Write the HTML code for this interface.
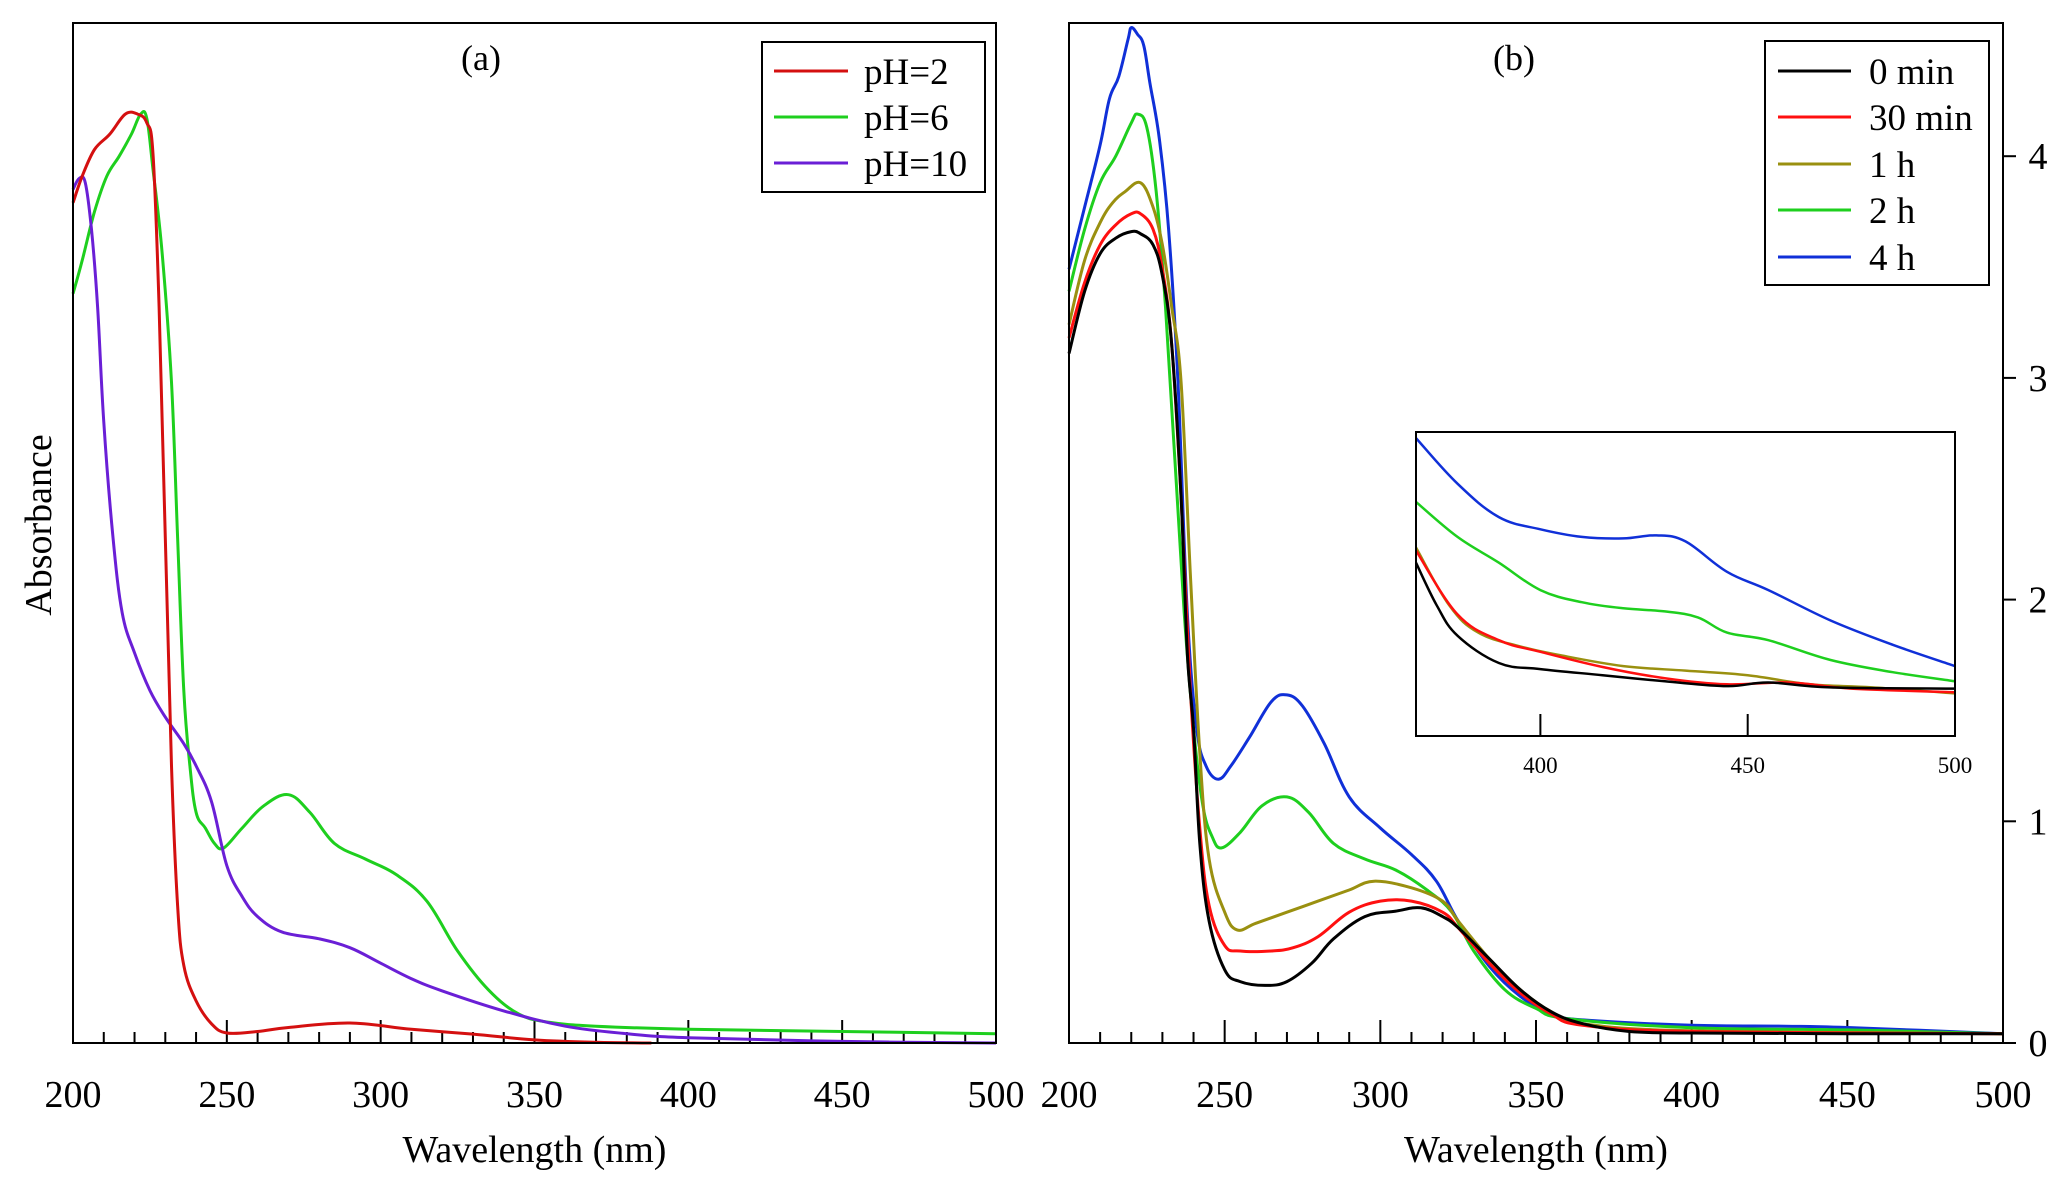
<!DOCTYPE html>
<html><head><meta charset="utf-8">
<style>
html,body{margin:0;padding:0;background:#fff;}
svg{display:block;font-family:"Liberation Serif",serif;}
</style></head>
<body>
<svg id="fig" width="2067" height="1195" viewBox="0 0 2067 1195" xmlns="http://www.w3.org/2000/svg"></svg>
<script>
// ---- Panel (a) data ----
const aNames = ["pH=2","pH=6","pH=10"];
const aColors = ["#d41010","#1ecf1e","#6a1fd6"];
const aRedX = [200,203,207,212,217,221,224,226,228,230,232,234,236,240,245,250,260,270,290,310,330,350,370,388];
const aRedY = [3.79,3.91,4.03,4.1,4.19,4.19,4.15,4.01,3.32,2.28,1.25,0.62,0.35,0.19,0.087,0.045,0.052,0.07,0.09,0.062,0.04,0.014,0.003,0];
const aGreenX = [200,203,207,211,215,219,222,224,226,229,232,234,236,238,240,243,246,249,255,262,270,277,285,295,305,315,325,335,345,355,370,400,450,500];
const aGreenY = [3.38,3.53,3.75,3.91,4.0,4.1,4.19,4.17,3.94,3.56,2.98,2.28,1.59,1.25,1.04,0.97,0.9,0.88,0.97,1.07,1.12,1.04,0.9,0.83,0.76,0.64,0.415,0.24,0.13,0.093,0.076,0.062,0.052,0.042];
const aPurpleX = [200,202,204,206,208,210,213,216,220,225,230,236,240,245,250,255,260,268,280,290,300,310,320,340,360,380,400,450,500];
const aPurpleY = [3.85,3.9,3.88,3.67,3.32,2.8,2.28,1.94,1.76,1.59,1.47,1.35,1.25,1.09,0.8,0.66,0.57,0.5,0.47,0.43,0.36,0.29,0.235,0.145,0.076,0.042,0.024,0.007,0];

// ---- Panel (b) data ----
const bNames = ["0 min","30 min","1 h","2 h","4 h"];
const bColors = ["#000000","#ff1010","#9a9010","#1ecf1e","#1030d8"];
const b0X = [200,205,210,215,220,223,227,230,233,236,238,240,242,245,250,255,263,270,278,285,295,305,313,320,325,335,345,355,365,380,400,450,500];
const b0Y = [3.11,3.39,3.56,3.63,3.66,3.65,3.6,3.46,3.15,2.46,1.76,1.42,0.9,0.55,0.33,0.277,0.26,0.277,0.36,0.47,0.57,0.595,0.61,0.57,0.52,0.38,0.24,0.14,0.087,0.052,0.045,0.042,0.042];
const b30X = [200,205,210,215,220,223,227,230,233,236,239,242,245,250,255,265,272,280,290,300,310,320,325,335,345,355,365,400,500];
const b30Y = [3.18,3.43,3.6,3.69,3.74,3.74,3.67,3.49,3.15,2.46,1.59,0.97,0.62,0.44,0.415,0.415,0.43,0.48,0.59,0.64,0.64,0.59,0.52,0.36,0.225,0.13,0.08,0.052,0.042];
const b1X = [200,205,210,214,218,223,227,230,233,236,239,242,245,250,254,260,270,280,290,298,310,320,325,335,345,355,365,400,500];
const b1Y = [3.24,3.53,3.7,3.79,3.84,3.88,3.77,3.6,3.32,2.98,2.11,1.31,0.83,0.59,0.51,0.54,0.59,0.64,0.69,0.73,0.7,0.64,0.55,0.38,0.24,0.14,0.087,0.055,0.042];
const b2X = [200,205,210,215,220,222,225,228,231,234,237,240,243,246,249,255,262,270,277,285,295,305,315,323,330,340,350,360,400,450,500];
const b2Y = [3.39,3.67,3.88,4.0,4.15,4.19,4.13,3.84,3.32,2.63,1.94,1.42,1.07,0.93,0.88,0.95,1.07,1.11,1.04,0.9,0.83,0.78,0.69,0.59,0.415,0.24,0.156,0.11,0.069,0.059,0.042];
const b4X = [200,205,210,213,216,219,220,222,224,226,229,232,235,238,241,244,248,252,258,265,270,275,282,290,300,310,318,325,335,345,355,365,400,430,450,500];
const b4Y = [3.49,3.77,4.05,4.26,4.36,4.53,4.58,4.55,4.5,4.33,4.08,3.67,2.98,1.94,1.42,1.25,1.19,1.25,1.38,1.54,1.57,1.52,1.35,1.11,0.97,0.85,0.73,0.55,0.346,0.21,0.13,0.104,0.08,0.076,0.07,0.042];

// ---- Inset data (relative units, 0 = inset bottom, 1 = inset top) ----
const i0X = [370,375,380,390,400,415,430,445,455,470,500];
const i0Y = [0.57,0.43,0.33,0.24,0.22,0.2,0.18,0.164,0.176,0.16,0.156];
const i30X = [370,380,390,400,415,430,445,460,475,500];
const i30Y = [0.61,0.40,0.315,0.277,0.227,0.19,0.17,0.176,0.156,0.144];
const i1X = [370,378,385,395,405,420,435,450,465,480,500];
const i1Y = [0.62,0.43,0.34,0.295,0.265,0.23,0.215,0.2,0.17,0.16,0.14];
const i2X = [370,380,390,400,410,420,430,438,445,455,470,485,500];
const i2Y = [0.77,0.655,0.57,0.48,0.44,0.42,0.41,0.39,0.34,0.315,0.25,0.21,0.18];
const i4X = [370,380,390,400,410,420,428,435,445,455,470,485,500];
const i4Y = [0.98,0.83,0.72,0.68,0.655,0.65,0.66,0.64,0.54,0.48,0.38,0.30,0.23];

const xTicks = [200,250,300,350,400,450,500];
const yTicksB = [0,1,2,3,4];
const insetTicks = [400,450,500];

const NS = "http://www.w3.org/2000/svg";
const svg = document.getElementById("fig");
function mk(tag, attrs, parent){
  const e = document.createElementNS(NS, tag);
  for (const k in attrs) e.setAttribute(k, attrs[k]);
  (parent||svg).appendChild(e);
  return e;
}
const Y0 = 1043;
function yScale(v){ return Y0 - v*221.7; }

function panel(name, L, R){
  const g = mk("g", {});
  
  
  const xs = w => L + (w-200)*(R-L)/300;
  for (let w=200; w<=500; w+=10){
    const major = (w%50===0);
    const t = mk("line",{x1:xs(w),x2:xs(w),y1:Y0,y2:Y0-(major?23:11),stroke:"#000","stroke-width":2},g);
    
    
  }
  xTicks.forEach(w=>{
    const t = mk("text",{x:xs(w),y:1107,"font-size":38,"text-anchor":"middle",fill:"#000"},g);
    t.textContent = w;
    
    
  });
  const xt = mk("text",{x:(L+R)/2,y:1162,"font-size":38,"text-anchor":"middle",fill:"#000"},g);
  xt.textContent = "Wavelength (nm)";
  
  
  return {g, xs};
}
function series(g, xs, ys, X, Y, color, name, w){
  const P = X.map((x,i)=>[xs(x), ys(Y[i])]);
  let d = "M"+P[0][0].toFixed(1)+" "+P[0][1].toFixed(1);
  const t = 0.18;
  for (let i=0;i<P.length-1;i++){
    const p0=P[Math.max(0,i-1)], p1=P[i], p2=P[i+1], p3=P[Math.min(P.length-1,i+2)];
    const c1=[p1[0]+(p2[0]-p0[0])*t, p1[1]+(p2[1]-p0[1])*t];
    const c2=[p2[0]-(p3[0]-p1[0])*t, p2[1]-(p3[1]-p1[1])*t];
    d += "C"+c1[0].toFixed(1)+" "+c1[1].toFixed(1)+" "+c2[0].toFixed(1)+" "+c2[1].toFixed(1)+" "+p2[0].toFixed(1)+" "+p2[1].toFixed(1);
  }
  const p = mk("path",{d:d,fill:"none",stroke:color,"stroke-width":w||3,"stroke-linejoin":"round"},g);
  
  
}
function legend(g, x0, y0, w, h, names, colors, lx1, lx2, tx, ys){
  const b = mk("rect",{x:x0,y:y0,width:w,height:h,fill:"#fff",stroke:"#000","stroke-width":2},g);
  
  
  names.forEach((n,i)=>{
    const e = mk("g",{},g);
    
    
    mk("line",{x1:lx1,x2:lx2,y1:ys[i],y2:ys[i],stroke:colors[i],"stroke-width":3},e);
    const t = mk("text",{x:tx,y:ys[i]+13,"font-size":37,fill:"#000"},e);
    t.textContent = n;
  });
}

// Panel a
const A = panel("panel-a", 73, 996);
series(A.g, A.xs, yScale, aGreenX, aGreenY, aColors[1], "series-ph6");
series(A.g, A.xs, yScale, aPurpleX, aPurpleY, aColors[2], "series-ph10");
series(A.g, A.xs, yScale, aRedX, aRedY, aColors[0], "series-ph2");
const fa = mk("rect",{x:73,y:23,width:923,height:1020,fill:"none",stroke:"#000","stroke-width":2},A.g);
 
const ta = mk("text",{x:481,y:70,"font-size":36,"text-anchor":"middle"},A.g);
ta.textContent="(a)";  
const yl = mk("text",{x:0,y:0,"font-size":38,"text-anchor":"middle",transform:"translate(51,525) rotate(-90)"},A.g);
yl.textContent="Absorbance";  
legend(A.g, 762, 42, 223, 150, aNames, aColors, 774, 848, 864, [71,117,163]);

// Panel b
const B = panel("panel-b", 1069, 2003);
const bX = [b0X,b30X,b1X,b2X,b4X], bY = [b0Y,b30Y,b1Y,b2Y,b4Y];
const order = [4,3,2,1,0];
order.forEach(i=>series(B.g, B.xs, yScale, bX[i], bY[i], bColors[i], "series-"+bNames[i].replace(" ","-")));
const fb = mk("rect",{x:1069,y:23,width:934,height:1020,fill:"none",stroke:"#000","stroke-width":2},B.g);
 
yTicksB.forEach(v=>{
  const t = mk("line",{x1:2003,x2:2016,y1:yScale(v),y2:yScale(v),stroke:"#000","stroke-width":2},B.g);
   
  const l = mk("text",{x:2038,y:yScale(v)+13,"font-size":38,"text-anchor":"middle"},B.g);
  l.textContent=v;  
});
const tb = mk("text",{x:1514,y:70,"font-size":36,"text-anchor":"middle"},B.g);
tb.textContent="(b)";  
legend(B.g, 1765, 41, 224, 244, bNames, bColors, 1778, 1851, 1869, [71,117,164,210,257]);

// Inset
const IL=1416, IR=1955, IT=432, IB=736;
const ig = mk("g",{});


mk("rect",{x:IL,y:IT,width:IR-IL,height:IB-IT,fill:"#fff"},ig);
const ixs = w => IL + (w-370)*(IR-IL)/130;
const iys = v => IB - v*(IB-IT);
const iX=[i0X,i30X,i1X,i2X,i4X], iY=[i0Y,i30Y,i1Y,i2Y,i4Y];
order.forEach(i=>series(ig, ixs, iys, iX[i], iY[i], bColors[i], "inset-series-"+bNames[i].replace(" ","-"), 2.5));
const fi = mk("rect",{x:IL,y:IT,width:IR-IL,height:IB-IT,fill:"none",stroke:"#000","stroke-width":2},ig);
 
insetTicks.forEach(w=>{
  const t = mk("line",{x1:ixs(w),x2:ixs(w),y1:IB,y2:IB-22,stroke:"#000","stroke-width":2},ig);
   
  const l = mk("text",{x:ixs(w),y:773,"font-size":23,"text-anchor":"middle"},ig);
  l.textContent=w;  
});
</script>
</body></html>
